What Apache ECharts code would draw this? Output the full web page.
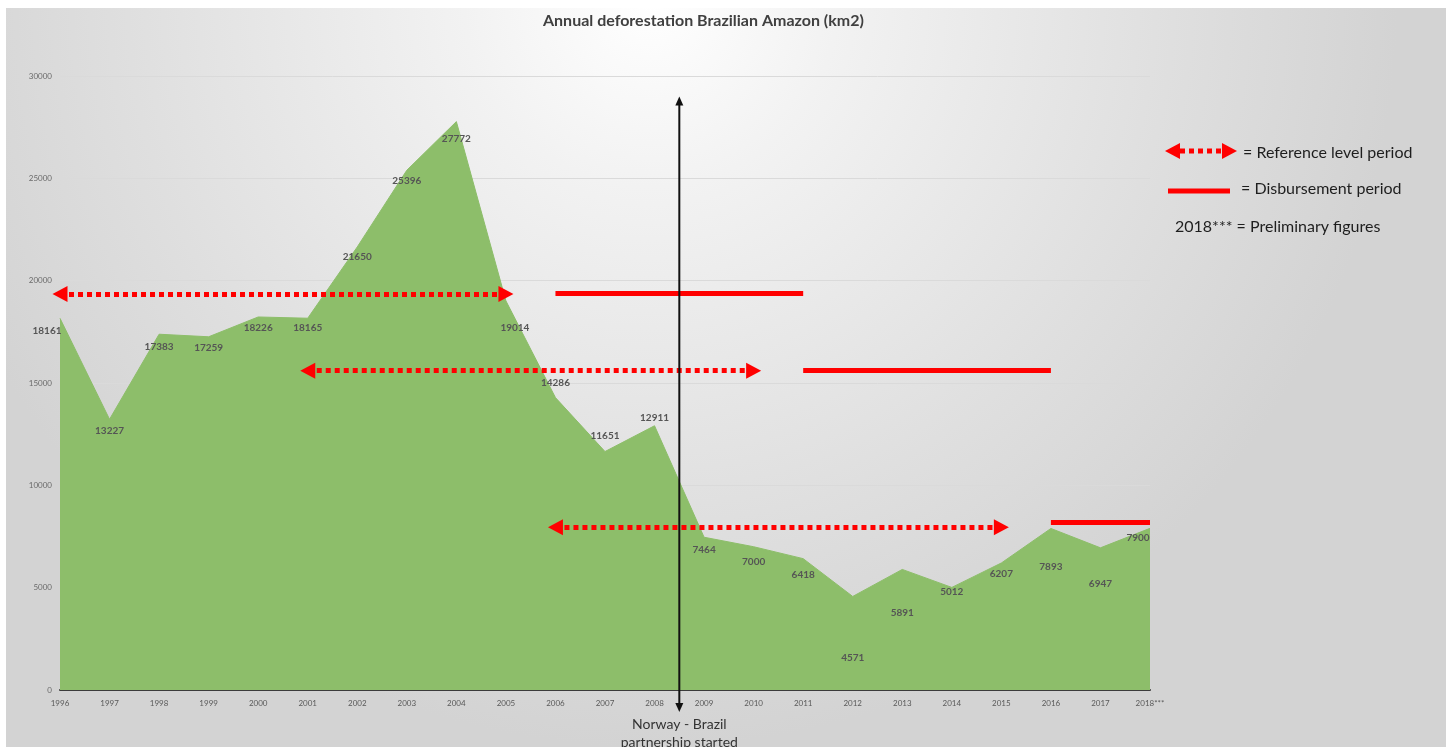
<!DOCTYPE html>
<html>
<head>
<meta charset="utf-8">
<script src="https://cdn.jsdelivr.net/npm/echarts@6/dist/echarts.min.js"></script>
<style>
  html, body { margin: 0; padding: 0; }
  #chart { width: 1446px; height: 747px; }
</style>
</head>
<body>
<div id="chart"></div>
<script>
var years = ['1996','1997','1998','1999','2000','2001','2002','2003','2004','2005','2006','2007',
             '2008','2009','2010','2011','2012','2013','2014','2015','2016','2017','2018***'];
var deforestation = [18161, 13227, 17383, 17259, 18226, 18165, 21650, 25396, 27772, 19014, 14286, 11651,
                     12911, 7464, 7000, 6418, 4571, 5891, 5012, 6207, 7893, 6947, 7900];
var yTicks = [0, 5000, 10000, 15000, 20000, 25000, 30000];

// reference level periods (dotted arrows) and disbursement periods (solid bars)
var refFrom = ['1996', '2001', '2006'];
var refTo = ['2005', '2010', '2015'];
var refLevel = [19350, 15600, 7950];
var payFrom = ['2006', '2011', '2016'];
var payTo = ['2011', '2016', '2018***'];
var payLevel = [19400, 15620, 8200];

(function(){
    var myChart = echarts.init(document.getElementById('chart'));
    var font = 'Lato, "Open Sans", sans-serif';

    // label nudges so the numbers sit where they did in the original
    var shift = {
        0: [-13, 12], 1: [0, 11], 2: [0, 13], 3: [0, 11], 4: [0, 11], 5: [0, 10], 6: [0, 10],
        7: [0, 11], 8: [0, 17], 9: [9, 27], 10: [0, -15], 11: [0, -16], 12: [0, -8],
        13: [0, 13], 14: [0, 15], 15: [0, 16], 16: [0, 61], 17: [0, 43], 18: [0, 4],
        19: [0, 11], 20: [0, 38], 21: [0, 36], 22: [-12, 9]
    };
    var points = deforestation.map(function (v, i) {
        return { value: v, label: { offset: shift[i] || [0, 10] } };
    });

    var marks = [];
    for (var i = 0; i < refFrom.length; i++) {
        marks.push([
            { coord: [refFrom[i], refLevel[i]], symbol: 'triangle',
              lineStyle: { type: [5, 4], width: 5, color: '#ff0000', cap: 'butt' } },
            { coord: [refTo[i], refLevel[i]], symbol: 'triangle' }
        ]);
        marks.push([
            { coord: [payFrom[i], payLevel[i]], symbol: 'none',
              lineStyle: { type: 'solid', width: 5, color: '#ff0000' } },
            { coord: [payTo[i], payLevel[i]], symbol: 'none' }
        ]);
    }

    var option = {
        backgroundColor: {
            type: 'radial', x: 0.45, y: 0.0, r: 1.0,
            colorStops: [
                { offset: 0, color: '#ffffff' },
                { offset: 0.25, color: '#f2f2f2' },
                { offset: 0.7, color: '#dfdfdf' },
                { offset: 1, color: '#d3d3d3' }
            ]
        },
        animation: false,
        title: {
            left: 538,
            top: 8,
            text: 'Annual deforestation Brazilian Amazon (km2)',
            textStyle: { color: '#404040', fontFamily: font, fontWeight: 'bold', fontSize: 16 }
        },
        grid: { left: 60, right: 296, top: 76, bottom: 57 },
        xAxis: {
            type: 'category',
            boundaryGap: false,
            data: years,
            axisLine: { lineStyle: { color: '#3b3b3b', width: 2 } },
            axisTick: { show: false },
            axisLabel: { color: '#595959', fontFamily: font, fontSize: 8, margin: 9 },
            splitLine: { show: false }
        },
        yAxis: {
            type: 'value',
            min: yTicks[0],
            max: yTicks[yTicks.length - 1],
            interval: 5000,
            axisLine: { show: false },
            axisTick: { show: false },
            axisLabel: { color: '#6a6a6a', fontFamily: font, fontSize: 8, margin: 8,
                         formatter: function (v) { return String(v); } },
            splitLine: { lineStyle: { color: '#dadada', width: 1 } }
        },
        series: [
            {
                name: 'Annual deforestation',
                type: 'line',
                data: points,
                symbol: 'circle',
                symbolSize: 1,
                itemStyle: { color: 'rgba(0,0,0,0)' },
                lineStyle: { color: '#8dbe6a', width: 1 },
                areaStyle: { color: '#8dbe6a', opacity: 1 },
                label: {
                    show: true,
                    position: 'inside',
                    color: '#555555',
                    fontFamily: font,
                    fontWeight: 'bold',
                    fontSize: 10
                },
                markLine: {
                    silent: true,
                    symbolSize: [16, 15],
                    label: { show: false },
                    data: marks
                }
            }
        ]
    };

    myChart.setOption(option);

    // partnership marker between 2008 and 2009, plus the right-hand notes
    var x8 = myChart.convertToPixel({ xAxisIndex: 0 }, '2008');
    var x9 = myChart.convertToPixel({ xAxisIndex: 0 }, '2009');
    var xm = (x8 + x9) / 2;
    var yTop = myChart.convertToPixel({ yAxisIndex: 0 }, 29000);
    var yZero = myChart.convertToPixel({ yAxisIndex: 0 }, 0);
    var yBot = yZero + 22;
    var noteFill = '#1e1e1e';
    var noteFont = '16px ' + font;

    myChart.setOption({
        graphic: [
            { type: 'rect', shape: { x: 0, y: 0, width: 1446, height: 8 }, style: { fill: '#ffffff' }, silent: true },
            { type: 'rect', shape: { x: 0, y: 0, width: 6, height: 747 }, style: { fill: '#ffffff' }, silent: true },

            { type: 'line', shape: { x1: xm, y1: yTop + 8, x2: xm, y2: yBot - 8 },
              style: { stroke: '#111', lineWidth: 2 }, z: 100 },
            { type: 'polygon', shape: { points: [[xm, yTop], [xm - 4, yTop + 9], [xm + 4, yTop + 9]] },
              style: { fill: '#111' }, z: 100 },
            { type: 'polygon', shape: { points: [[xm, yBot], [xm - 4, yBot - 9], [xm + 4, yBot - 9]] },
              style: { fill: '#111' }, z: 100 },
            { type: 'text', x: xm, y: yBot + 3,
              style: { text: 'Norway - Brazil\npartnership started', align: 'center', verticalAlign: 'top',
                       fill: '#333', font: '14px ' + font, lineHeight: 18 } },

            { type: 'polygon', shape: { points: [[1165, 151], [1180, 143], [1180, 159]] },
              style: { fill: '#ff0000' } },
            { type: 'line', shape: { x1: 1180, y1: 151, x2: 1222, y2: 151 },
              style: { stroke: '#ff0000', lineWidth: 5, lineDash: [5, 4] } },
            { type: 'polygon', shape: { points: [[1237, 151], [1222, 143], [1222, 159]] },
              style: { fill: '#ff0000' } },
            { type: 'text', x: 1243, y: 153, style: { text: '= Reference level period', verticalAlign: 'middle', fill: noteFill, font: noteFont } },

            { type: 'line', shape: { x1: 1168, y1: 191, x2: 1230, y2: 191 },
              style: { stroke: '#ff0000', lineWidth: 5 } },
            { type: 'text', x: 1241, y: 189, style: { text: '= Disbursement period', verticalAlign: 'middle', fill: noteFill, font: noteFont } },

            { type: 'text', x: 1175, y: 227, style: { text: '2018*** = Preliminary figures', verticalAlign: 'middle', fill: noteFill, font: noteFont } }
        ]
    });
})();
</script>
</body>
</html>
